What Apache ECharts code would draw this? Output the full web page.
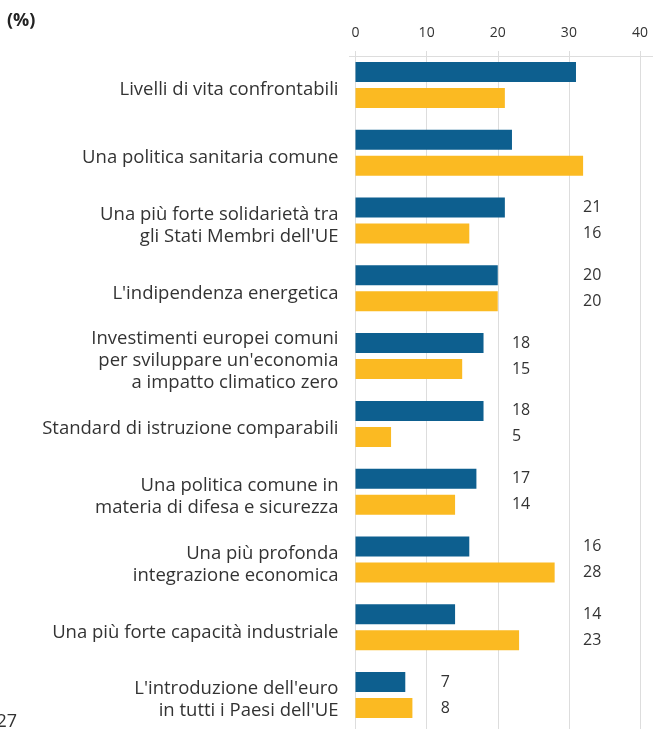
<!DOCTYPE html>
<html lang="it">
<head>
    <meta charset="utf-8">
    <title>Priorità UE</title>
    <style>
        html, body { margin: 0; padding: 0; background: #fff; }
        #main { width: 653px; height: 731px; }
    </style>
</head>
<body>
    <div id="main"></div>
    <script src="https://cdn.jsdelivr.net/npm/echarts@6/dist/echarts.min.js"></script>
    <script type="text/javascript">
        // categorie (dall'alto in basso)
        var categories = [
            'Livelli di vita confrontabili',
            'Una politica sanitaria comune',
            'Una più forte solidarietà tra\ngli Stati Membri dell\'UE',
            'L\'indipendenza energetica',
            'Investimenti europei comuni\nper sviluppare un\'economia\na impatto climatico zero',
            'Standard di istruzione comparabili',
            'Una politica comune in\nmateria di difesa e sicurezza',
            'Una più profonda\nintegrazione economica',
            'Una più forte capacità industriale',
            'L\'introduzione dell\'euro\nin tutti i Paesi dell\'UE'
        ];
        var serieBlu = [31, 22, 21, 20, 18, 18, 17, 16, 14, 7];
        var serieGialla = [21, 32, 16, 20, 15, 5, 14, 28, 23, 8];
        var tickLabels = [0, 10, 20, 30, 40];

        var gridLeft = 355.5, gridWidth = 284.5, gridTop = 51, gridHeight = 678;
        var pxPerUnit = gridWidth / 40;
        var textColor = '#333333';
        var fontName = 'Open Sans';

        // le etichette sono allineate in colonne: decina successiva al massimo + 2
        function labelCol(i) {
            var m = Math.max(serieBlu[i], serieGialla[i]);
            return (Math.floor(m / 10) + 1) * 10 + 2;
        }
        function withLabels(arr) {
            return arr.map(function (v, i) {
                return {
                    value: v,
                    label: { offset: [labelCol(i) * pxPerUnit, 0] }
                };
            });
        }

        var myChart = echarts.init(document.getElementById('main'));
        var barLabel = {
            show: true,
            position: 'insideLeft',
            distance: 0,
            color: textColor,
            fontFamily: fontName,
            fontSize: 16
        };
        var option = {
            animation: false,
            grid: { left: gridLeft, width: gridWidth, top: gridTop, height: gridHeight },
            xAxis: {
                type: 'value',
                position: 'top',
                min: 0,
                max: 40,
                interval: 10,
                axisLine: { show: false },
                axisTick: { show: false },
                axisLabel: {
                    color: textColor,
                    fontFamily: fontName,
                    fontSize: 14,
                    margin: 11,
                    formatter: function (v) { return tickLabels.indexOf(v) >= 0 ? String(v) : ''; }
                },
                splitLine: { show: true, lineStyle: { color: '#dddddd', width: 1 } }
            },
            yAxis: {
                type: 'category',
                inverse: true,
                data: categories,
                axisLine: { show: false },
                axisTick: { show: false },
                axisLabel: {
                    color: textColor,
                    fontFamily: fontName,
                    fontSize: 18.5,
                    margin: 17,
                    align: 'right',
                    // riga vuota in testa per abbassare leggermente il testo
                    formatter: function (v) {
                        return '{s|}\n' + v.split('\n').map(function (l) {
                            return '{a|' + l + '}';
                        }).join('\n');
                    },
                    rich: {
                        s: { lineHeight: 10, fontSize: 1 },
                        a: { lineHeight: 22, fontSize: 18.5, fontFamily: fontName, color: textColor }
                    }
                }
            },
            series: [
                {
                    name: 'blu',
                    type: 'bar',
                    data: withLabels(serieBlu),
                    barWidth: 20,
                    barGap: '30%',
                    itemStyle: { color: '#0d5f8f' },
                    label: barLabel
                },
                {
                    name: 'gialla',
                    type: 'bar',
                    data: withLabels(serieGialla),
                    barWidth: 20,
                    barGap: '30%',
                    itemStyle: { color: '#fbba22' },
                    label: barLabel
                }
            ],
            graphic: [
                {
                    type: 'line',
                    shape: { x1: 349, y1: 56.5, x2: 653, y2: 56.5 },
                    style: { stroke: '#dddddd', lineWidth: 1 },
                    z: 0
                },
                {
                    type: 'text',
                    left: 7,
                    top: 12,
                    style: { text: '(%)', fill: '#222', font: 'bold 18px "Open Sans"' }
                },
                {
                    type: 'text',
                    x: 17,
                    y: 713,
                    style: { text: 'UE27', fill: textColor, align: 'right', font: '18px "Open Sans"' }
                }
            ]
        };
        myChart.setOption(option);
    </script>
</body>
</html>
